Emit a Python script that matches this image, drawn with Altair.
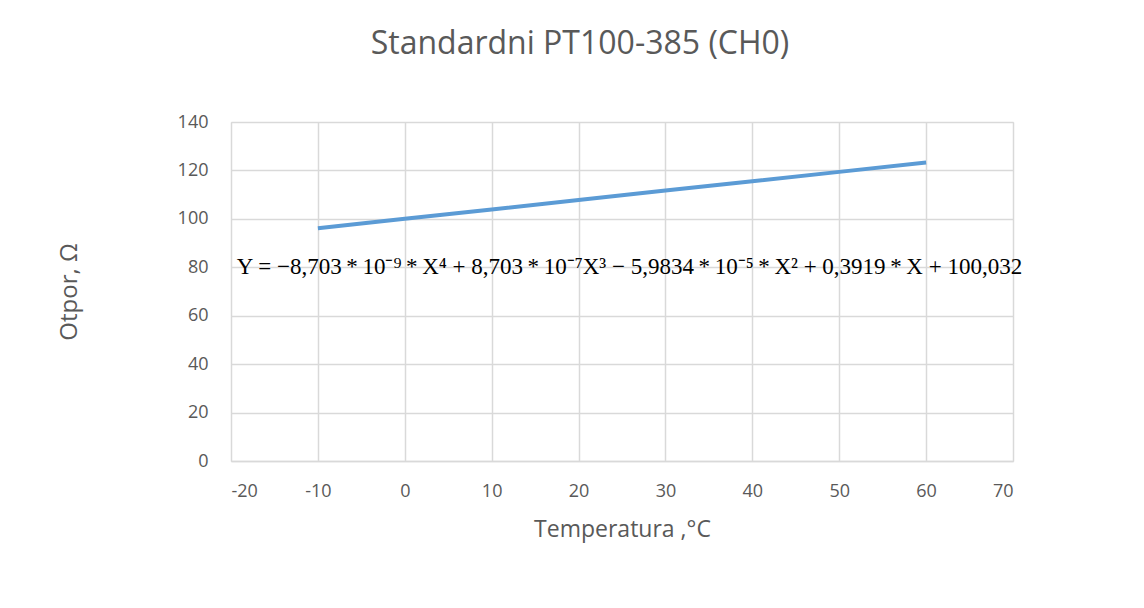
import altair as alt
import pandas as pd

temperature = [-10, 0, 10, 20, 30, 40, 50, 60]
resistance = [96.09, 100.00, 103.90, 107.79, 111.67, 115.54, 119.40, 123.24]

equation_text = ["Y = −8,703\u2009*\u200910⁻⁹\u2009*\u2009X⁴ + 8,703\u2009*\u200910⁻⁷X³ − 5,9834\u2009*\u200910⁻⁵\u2009*\u2009X² + 0,3919\u2009*\u2009X + 100,032"]
equation_x = [25.86]
equation_y = [80]

df = pd.DataFrame({"t": temperature, "r": resistance})
eq = pd.DataFrame({"x": equation_x, "y": equation_y, "label": equation_text})

FONT = "Open Sans"
GRAY = "#595959"
GRID = "#d9d9d9"

x_enc = alt.X("t:Q", scale=alt.Scale(domain=[-20, 70], nice=False),
              axis=alt.Axis(title="Temperatura ,°C", values=list(range(-20, 71, 10)),
                            labelExpr="'' + datum.value",
                            grid=True, gridColor=GRID, gridWidth=1.5,
                            domainColor=GRID, domainWidth=1.5, ticks=False,
                            labelFont=FONT, labelFontSize=18, labelColor=GRAY, labelPadding=21,
                            titleFont=FONT, titleFontSize=23, titleColor=GRAY,
                            titleFontWeight="normal", titlePadding=18))
y_enc = alt.Y("r:Q", scale=alt.Scale(domain=[0, 140], nice=False),
              axis=alt.Axis(title="Otpor, Ω", values=list(range(0, 141, 20)),
                            grid=True, gridColor=GRID, gridWidth=1.5,
                            domain=False, ticks=False,
                            labelFont=FONT, labelFontSize=18, labelColor=GRAY, labelPadding=23,
                            titleFont=FONT, titleFontSize=24, titleColor=GRAY,
                            titleFontWeight="normal", titlePadding=96))

line = alt.Chart(df).mark_line(color="#5b9bd5", strokeWidth=4).encode(x=x_enc, y=y_enc)

text = alt.Chart(eq).mark_text(font="Liberation Serif", fontSize=23,
                               color="#000000", align="center", baseline="middle").encode(
    x=alt.X("x:Q"), y=alt.Y("y:Q"), text="label:N")

chart = alt.layer(line, text).properties(
    width=782, height=339,
    title=alt.TitleParams("Standardni PT100-385 (CH0)", font=FONT, fontSize=32,
                          fontWeight="normal", color=GRAY, anchor="middle", dx=-42, offset=52),
    autosize=alt.AutoSizeParams(type="none"),
    padding={"left": 223, "top": 114, "right": 100, "bottom": 120},
).configure_view(stroke=GRID, strokeWidth=1.5).configure(background="white")

chart.save("out.html", embed_options={"renderer": "svg", "actions": False})
